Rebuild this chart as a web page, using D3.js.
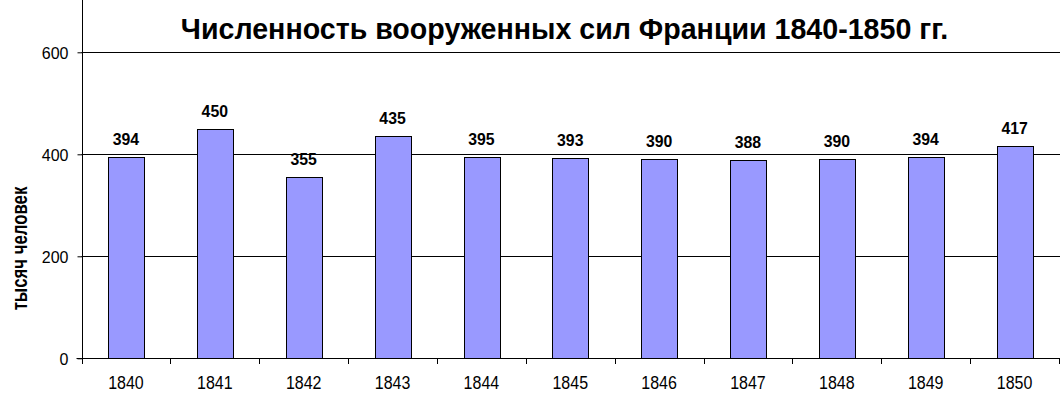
<!DOCTYPE html>
<html><head><meta charset="utf-8">
<script src="https://cdn.jsdelivr.net/npm/d3@7"></script>
<style>body{margin:0;background:#fff;}svg{display:block;font-family:Arial,"Liberation Sans",sans-serif;}</style>
</head><body><svg id="c" width="1060" height="402"></svg>
<script>
const years = ["1840","1841","1842","1843","1844","1845","1846","1847","1848","1849","1850"];
const values = [394,450,355,435,395,393,390,388,390,394,417];
const yTicks = [0,200,400,600];
const title = "Численность вооруженных сил Франции 1840-1850 гг.";
const yLabel = "тысяч человек";

const svg = d3.select("#c");
const pLeft = 81.5, pRight = 1059, pTop = 52.3, pBottom = 358.3;
const x = d3.scaleBand().domain(years).range([pLeft, pRight]).paddingInner(0).paddingOuter(0);
const y = d3.scaleLinear().domain([0,600]).range([pBottom, pTop]);

// gridlines
svg.append("g").selectAll("line").data(yTicks.filter(d=>d>0)).join("line")
  .attr("x1", pLeft).attr("x2", 1060)
  .attr("y1", d=>Math.round(y(d))+0.5).attr("y2", d=>Math.round(y(d))+0.5)
  .attr("stroke","#000").attr("stroke-width",1);

// bars
const bw = x.bandwidth()*0.4;
svg.append("g").selectAll("rect").data(values).join("rect")
  .attr("x", (d,i)=>Math.round(x(years[i])+x.bandwidth()/2-bw/2)+0.5)
  .attr("width", Math.round(bw))
  .attr("y", d=>Math.round(y(d))+0.5)
  .attr("height", d=>Math.round(pBottom)-Math.round(y(d)))
  .attr("fill","#9999FF").attr("stroke","#000").attr("stroke-width",1);

// value labels
svg.append("g").selectAll("text").data(values).join("text")
  .attr("transform", (d,i)=>`translate(${x(years[i])+x.bandwidth()/2},${y(d)-12}) scale(1,1.08)`)
  .attr("text-anchor","middle").attr("font-size",15.8).attr("font-weight","bold")
  .text(d=>d);

// y axis
const yAxis = d3.axisLeft(y).tickValues(yTicks).tickSize(5).tickPadding(9).tickFormat(d3.format("d"));
const ga = svg.append("g").attr("transform",`translate(${Math.round(pLeft)+0.5},0)`).call(yAxis);
ga.select(".domain").remove();
ga.selectAll("text").attr("font-size",16).attr("font-family","Arial, 'Liberation Sans', sans-serif").attr("fill","#000").attr("dy","0.36em");
ga.selectAll("line").attr("stroke","#000");
svg.append("line").attr("x1",Math.round(pLeft)+0.5).attr("x2",Math.round(pLeft)+0.5)
  .attr("y1",0).attr("y2",Math.round(pBottom)+5).attr("stroke","#000");

// x axis
svg.append("line").attr("x1",pLeft-5).attr("x2",1060)
  .attr("y1",Math.round(pBottom)+0.5).attr("y2",Math.round(pBottom)+0.5).attr("stroke","#000");
const bounds = years.map(d=>x(d)).concat([x(years[years.length-1])+x.bandwidth()]);
svg.append("g").selectAll("line").data(bounds).join("line")
  .attr("x1",d=>Math.round(d)+0.5).attr("x2",d=>Math.round(d)+0.5)
  .attr("y1",Math.round(pBottom)).attr("y2",Math.round(pBottom)+6).attr("stroke","#000");
svg.append("g").selectAll("text").data(years).join("text")
  .attr("transform", d=>`translate(${x(d)+x.bandwidth()/2},389) scale(1,1.1)`)
  .attr("text-anchor","middle").attr("font-size",16).text(d=>d);

// title
svg.append("text").attr("x",564.5).attr("y",39).attr("text-anchor","middle")
  .attr("font-size",28.6).attr("font-weight","bold").text(title);

// y label
svg.append("text").attr("transform","translate(27,248.5) rotate(-90) scale(1,1.28)")
  .attr("text-anchor","middle").attr("font-size",16.8).attr("font-weight","bold").text(yLabel);
</script></body></html>
